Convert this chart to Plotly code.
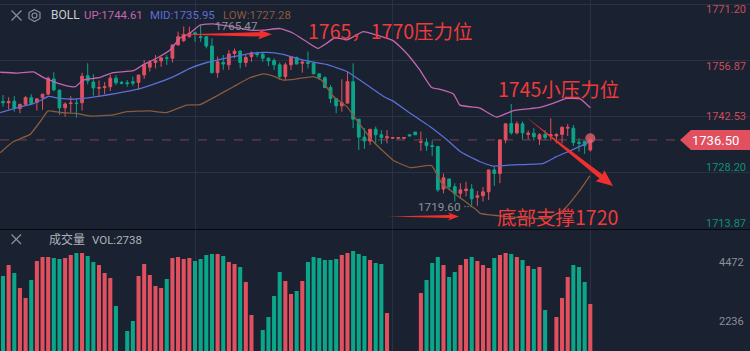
import plotly.graph_objects as go

high=[1748.0,1747.4,1747.7,1745.7,1747.7,1748.2,1747.0,1748.2,1752.7,1753.8,1749.4,1746.1,1747.7,1747.1,1753.7,1756.1,1753.3,1751.7,1751.3,1753.1,1753.1,1751.6,1751.8,1752.7,1753.1,1756.9,1756.9,1758.2,1757.6,1758.2,1760.8,1764.2,1765.5,1765.5,1764.2,1765.9,1763.1,1762.5,1757.8,1758.2,1759.5,1759.9,1759.5,1758.2,1759.1,1759.1,1759.1,1757.6,1757.4,1756.3,1756.3,1757.8,1757.8,1756.9,1759.1,1756.5,1753.4,1752.8,1750.5,1747.1,1752.0,1754.0,1756.1,1741.8,1739.5,1739.2,1739.9,1739.0,1739.0,1737.1,1737.1,1737.1,1737.8,1738.5,1738.6,1736.9,1736.3,1734.8,1727.9,1726.5,1725.4,1725.4,1725.8,1725.2,1723.4,1724.4,1728.8,1729.6,1736.5,1740.6,1745.7,1741.2,1741.2,1738.9,1739.5,1738.2,1739.0,1742.0,1738.2,1740.0,1740.6,1740.3,1736.9,1736.3,1736.9]
low=[1745.0,1744.3,1743.7,1743.3,1745.4,1745.4,1744.0,1744.2,1747.9,1748.9,1742.9,1742.4,1743.5,1742.2,1744.0,1750.7,1747.8,1747.6,1748.2,1749.0,1750.5,1750.7,1750.1,1750.3,1749.3,1752.1,1754.0,1754.8,1755.2,1755.7,1756.3,1760.6,1761.5,1762.7,1761.6,1761.6,1759.9,1753.5,1752.4,1754.4,1754.4,1757.4,1754.8,1755.2,1756.5,1757.6,1756.5,1755.4,1754.4,1751.8,1751.8,1754.4,1756.1,1753.7,1754.8,1753.4,1751.8,1749.7,1745.9,1743.3,1743.7,1745.9,1739.5,1733.9,1734.2,1735.2,1735.6,1735.4,1735.6,1736.9,1736.9,1736.9,1737.5,1737.8,1733.7,1733.7,1732.4,1723.2,1722.8,1723.7,1720.7,1721.4,1722.0,1719.8,1719.6,1720.7,1721.1,1724.7,1725.4,1735.6,1737.8,1737.9,1736.6,1736.6,1736.3,1735.2,1736.5,1736.3,1735.6,1735.6,1737.5,1734.9,1733.5,1732.9,1733.5]
open_=[1746.3,1746.0,1746.4,1744.5,1745.6,1747.3,1746.1,1747.3,1748.2,1752.1,1749.2,1744.7,1745.8,1745.9,1746.0,1752.9,1751.3,1749.7,1749.9,1750.1,1752.3,1751.2,1751.1,1751.4,1751.2,1753.1,1755.1,1756.3,1756.7,1757.5,1757.4,1760.8,1761.9,1762.9,1763.9,1762.9,1762.9,1760.5,1753.7,1756.3,1755.7,1758.6,1759.2,1756.3,1757.8,1758.6,1758.4,1757.4,1756.8,1755.7,1752.7,1755.7,1757.6,1756.1,1756.3,1756.1,1753.4,1752.4,1749.9,1747.1,1745.2,1745.9,1751.4,1741.8,1737.2,1736.2,1739.2,1737.8,1737.0,1736.9,1736.9,1736.9,1737.8,1738.5,1735.9,1735.9,1735.0,1734.8,1723.9,1726.5,1724.5,1722.8,1723.5,1723.9,1721.8,1722.2,1723.2,1728.8,1727.9,1736.5,1740.7,1738.3,1740.6,1737.9,1738.2,1736.7,1737.9,1737.5,1737.5,1737.9,1739.5,1739.5,1735.9,1736.1,1733.9]
close=[1746.0,1746.3,1744.6,1745.6,1747.3,1745.8,1747.0,1748.2,1752.3,1749.3,1744.7,1745.7,1745.9,1745.8,1752.8,1751.6,1749.8,1749.9,1750.1,1752.3,1751.1,1751.0,1750.9,1751.0,1753.1,1755.7,1756.3,1756.8,1757.5,1757.4,1760.8,1762.9,1763.5,1763.8,1763.5,1762.7,1760.5,1753.7,1756.5,1755.9,1758.5,1759.2,1756.3,1757.6,1758.8,1758.3,1757.4,1756.7,1755.7,1752.7,1755.7,1757.8,1755.9,1756.4,1756.1,1753.4,1752.5,1749.9,1747.1,1745.2,1746.0,1751.4,1741.8,1737.2,1736.2,1739.2,1737.8,1737.1,1737.3,1737.1,1737.1,1737.1,1737.5,1737.8,1736.0,1735.0,1734.8,1723.7,1726.8,1724.5,1722.7,1723.7,1723.9,1721.4,1722.2,1723.2,1728.8,1727.9,1736.5,1740.6,1738.3,1740.6,1738.3,1738.2,1737.3,1737.8,1737.1,1737.8,1737.9,1739.7,1739.7,1735.8,1735.6,1735.0,1736.5]
volume=[3969,4385,4082,3514,3135,3817,4537,4689,4689,4651,4613,4651,4764,4840,4840,4726,4499,4385,4082,3893,2832,900,1885,2264,3969,4423,4006,3590,3514,3855,4651,4689,4613,4651,4537,4613,4764,4802,4802,4726,4499,4423,4310,3741,2491,900,1923,2415,3211,4120,3779,3287,3400,3779,4499,4689,4651,4575,4575,4613,4764,4840,4916,4802,4726,4575,4461,4423,2567,900,900,900,900,900,3325,3817,4461,4689,4385,3931,4120,4385,4613,4689,4537,4385,4272,4651,4764,4840,4802,4689,4575,4347,4234,4310,2680,900,2415,3135,3931,4385,4310,3741,2908]
vol_colors="GRGRRGRRRG"+"GRRGRGGRRR"+"GGGGRRRRRG"+"RRRRGGGGRG"+"RRGRRGGGGG"+"RRGRGGGGGG"+"RRGGGRGGRG"+"GGGGRGGGRG"+"GRRGRRRGRR"+"GRGRGRGGRR"+"RGGGR"
candle_index=list(range(len(high)))

up_x=[-0.5,2.4,5.4,7.1,8.3,10.1,11.3,12.8,14.2,17.2,19.5,23.1,24.8,27.2,29.6,31.3,33.1,34.9,37.2,40.2,43.7,46.1,49.1,51.4,53.8,55.8,57.3,58.8,60.9,63.8,66.2,69.1,71.5,73.8,75.9,77.4,79.8,80.9,83.9,84.5,87.4,90.4,95.1,97.5,99.8,102.2,104.0]
up_y=[1753.8,1753.6,1753.9,1752.5,1751.8,1750.8,1750.3,1750.1,1751.8,1752.5,1753.7,1754.2,1755.7,1757.4,1759.5,1762.5,1763.8,1765.9,1766.2,1765.5,1764.6,1764.6,1765.0,1763.8,1761.6,1759.9,1761.2,1762.7,1762.1,1764.2,1763.3,1761.9,1758.6,1754.4,1749.9,1749.4,1748.2,1745.4,1744.8,1744.6,1742.3,1744.0,1744.8,1745.9,1747.1,1747.0,1744.7]
mid_x=[-0.5,2.4,5.4,6.8,8.0,10.1,12.2,14.2,17.2,20.1,23.7,27.2,30.2,33.1,36.1,40.8,43.7,46.7,49.6,53.2,57.3,60.9,63.2,67.4,69.1,72.1,75.6,78.6,80.9,83.9,84.5,86.8,90.4,95.7,98.0,100.4,103.9]
mid_y=[1743.5,1744.7,1745.8,1746.7,1747.6,1747.1,1746.9,1747.1,1747.7,1748.4,1749.4,1751.0,1752.7,1754.8,1756.3,1757.8,1758.6,1758.9,1758.4,1756.9,1755.8,1754.0,1751.8,1747.6,1746.4,1743.3,1739.9,1736.5,1733.6,1731.3,1730.9,1729.8,1730.1,1730.5,1732.2,1733.7,1736.0]
low_x=[-0.5,1.8,4.8,6.6,8.0,10.1,13.0,15.4,19.5,21.9,26.0,29.0,32.5,34.9,37.8,40.8,43.7,46.1,47.9,49.6,52.0,55.0,56.4,58.5,60.9,62.6,65.6,69.1,72.1,75.9,77.7,80.3,83.9,84.5,90.4,96.3,99.2,102.2,103.9]
low_y=[1733.2,1736.0,1737.9,1741.2,1743.9,1743.5,1743.3,1742.6,1742.9,1743.7,1743.9,1743.5,1745.4,1745.5,1747.7,1750.1,1752.4,1753.4,1752.8,1751.8,1752.1,1752.7,1751.8,1747.6,1745.0,1741.6,1736.0,1731.3,1729.4,1729.9,1725.4,1722.4,1718.5,1717.7,1716.7,1716.4,1718.5,1723.7,1727.3]
price_ticks=[1771.20,1756.87,1742.53,1728.20,1713.87]
last_price=1736.50

BG="#1a2130"; GRID="#283242"; RED="#e0505f"; GREEN="#0ba58a"; ARROW="#f0302f"
W,H=750,351
px=lambda x:x/W
py=lambda y:1-y/H
def poly(pts):
    return "M "+" L ".join(f"{px(x):.5f},{py(y):.5f}" for x,y in pts)+" Z"

fig=go.Figure()
fig.add_trace(go.Candlestick(x=candle_index,open=open_,high=high,low=low,close=close,
    increasing=dict(line=dict(color=RED,width=1),fillcolor=RED),
    decreasing=dict(line=dict(color=GREEN,width=1),fillcolor=GREEN),whiskerwidth=0,xaxis="x",yaxis="y",showlegend=False))
for sx,sy,c in ((up_x,up_y,"#c566b0"),(mid_x,mid_y,"#5b6fd6"),(low_x,low_y,"#8a5a3c")):
    fig.add_trace(go.Scatter(x=sx,y=sy,mode="lines",line=dict(color=c,width=1.3,shape="spline",smoothing=0.4),xaxis="x",yaxis="y",showlegend=False))
fig.add_trace(go.Scatter(x=[candle_index[-1]],y=[1736.9],mode="markers",marker=dict(size=10,color="rgba(240,100,110,0.75)"),xaxis="x",yaxis="y",showlegend=False))
fig.add_trace(go.Bar(x=candle_index,y=volume,marker=dict(color=[RED if c=="R" else GREEN for c in vol_colors],line=dict(width=0)),width=0.72,xaxis="x2",yaxis="y2",showlegend=False))

ax=dict(showticklabels=False,ticks="",zeroline=False,showline=False,range=[-0.531,132.28],tickvals=[34,69,104],gridcolor=GRID,gridwidth=1)
shapes=[dict(type="line",xref="paper",x0=0,x1=px(680),yref="y",y0=last_price,y1=last_price,line=dict(color="#6a3a48",width=1.2,dash="dash"),layer="below"),
  dict(type="path",xref="paper",yref="paper",path=poly([(680,140),(691,130),(750,130),(750,150),(691,150)]),fillcolor=RED,line=dict(width=0)),
  dict(type="path",xref="paper",yref="paper",path=poly([(176,34.5),(260,32.2),(258,29.5),(272,34.3),(258,39.5),(260,36.5)]),fillcolor=ARROW,line=dict(width=0)),
  dict(type="path",xref="paper",yref="paper",path=poly([(388,216.5),(450,215),(448,212.5),(459,216.5),(448,220.5),(450,218)]),fillcolor=ARROW,line=dict(width=0)),
  dict(type="path",xref="paper",yref="paper",path=poly([(526,117),(602.5,174.5),(604.4,170.2),(613,186),(595.6,181.2),(599.5,178.5)]),fillcolor=ARROW,line=dict(width=0)),
  dict(type="line",xref="paper",yref="paper",x0=px(11.5),x1=px(21.5),y0=py(10.5),y1=py(20.5),line=dict(color="#8a8f98",width=1.3)),
  dict(type="line",xref="paper",yref="paper",x0=px(11.5),x1=px(21.5),y0=py(20.5),y1=py(10.5),line=dict(color="#8a8f98",width=1.3)),
  dict(type="path",xref="paper",yref="paper",path=poly([(34.5,9.5),(40,12.5),(40,18.5),(34.5,21.5),(29,18.5),(29,12.5)]),line=dict(color="#8a8f98",width=1.2)),
  dict(type="circle",xref="paper",yref="paper",x0=px(32),x1=px(37),y0=py(13),y1=py(18),line=dict(color="#8a8f98",width=1.2)),
  dict(type="line",xref="paper",yref="paper",x0=px(11.5),x1=px(21),y0=py(234.5),y1=py(244),line=dict(color="#8a8f98",width=1.3)),
  dict(type="line",xref="paper",yref="paper",x0=px(11.5),x1=px(21),y0=py(244),y1=py(234.5),line=dict(color="#8a8f98",width=1.3)),
]
CN="Noto Sans CJK SC"; UI="Roboto"
def T(x,y,t,c,s,anchor="left",font=UI):
    return dict(xref="paper",yref="paper",x=px(x),y=py(y),text=t,showarrow=False,xanchor=anchor,yanchor="middle",font=dict(color=c,size=s,family=font))
TXT="#ee3b3b"
ann=[T(49,15.5,"BOLL","#c9ccd2",12),T(82,15.5,"UP:1744.61","#c566b0",11.4),T(148,15.5,"MID:1735.95","#5b6fd6",11.4),T(221,15.5,"LOW:1727.28","#8a5a3c",11.4),
 T(213,26,"1765.47","#8c9099",11.7),T(416,207,"1719.60 ···","#8c9099",11.7),
 T(306,31,"1765，1770压力位",TXT,19.5,font=CN),T(496,88.5,"1745小压力位",TXT,19.5,font=CN),T(495,216,"底部支撑1720",TXT,19.5,font=CN),
 T(715,140,"1736.50","#ffffff",13,"center"),
 T(47,239,"成交量","#b0b3b9",12,font=CN),T(90,239.5,"VOL:2738","#b0b3b9",11.5),
 T(746,262.5,"4472","#8c9099",11,"right"),T(746,321.5,"2236","#8c9099",11,"right")]
for t,yp,c in zip(price_ticks,[9,66,117,167,223],["#c94c5a","#c94c5a","#c94c5a","#0f9079","#0f9079"]):
    ann.append(T(748,yp,f"{t:.2f}",c,11,"right"))
fig.update_layout(width=W,height=H,margin=dict(l=0,r=0,t=0,b=0),paper_bgcolor="#06080c",plot_bgcolor=BG,showlegend=False,boxgap=0.3,
  xaxis=dict(ax,domain=[0,1],anchor="y",rangeslider=dict(visible=False)),
  xaxis2=dict(ax,domain=[0,1],anchor="y2"),
  yaxis=dict(domain=[1-229/351,1],range=[1713.68,1772.3],tickvals=price_ticks,showticklabels=False,zeroline=False,gridcolor=GRID,ticks=""),
  yaxis2=dict(domain=[0,1-230/351],range=[1126,5711],tickvals=[],showticklabels=False,zeroline=False,ticks=""),
  shapes=shapes,annotations=ann)
fig.write_html("out.html",config=dict(displayModeBar=False),post_script="document.body.style.margin='0';document.body.style.overflow='hidden';document.documentElement.style.overflow='hidden';")
